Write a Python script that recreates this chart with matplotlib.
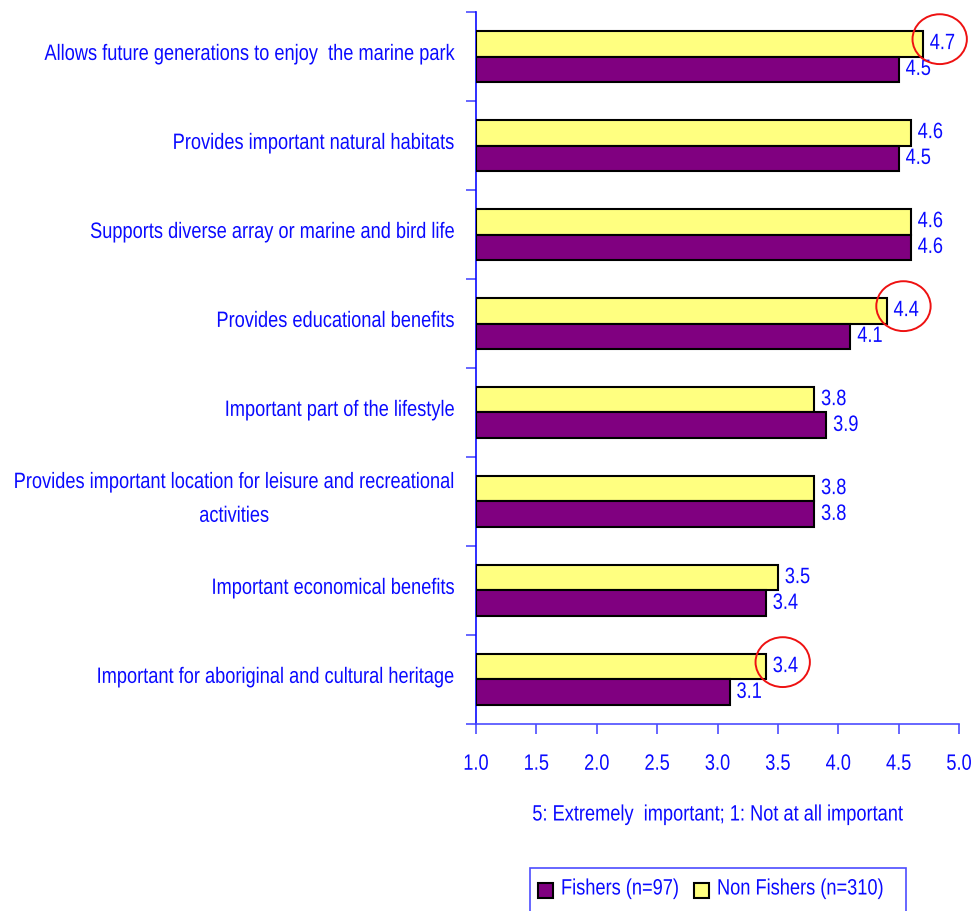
import numpy as np
import matplotlib.pyplot as plt
from matplotlib.patches import Ellipse, Rectangle
from matplotlib.patheffects import AbstractPathEffect
from matplotlib.text import Text
from matplotlib.transforms import Affine2D, Bbox, ScaledTranslation

# Data
categories = [
    "Allows future generations to enjoy  the marine park",
    "Provides important natural habitats",
    "Supports diverse array or marine and bird life",
    "Provides educational benefits",
    "Important part of the lifestyle",
    "Provides important location for leisure and recreational\nactivities",
    "Important economical benefits",
    "Important for aboriginal and cultural heritage",
]
fishers = [4.5, 4.5, 4.6, 4.1, 3.9, 3.8, 3.4, 3.1]
non_fishers = [4.7, 4.6, 4.6, 4.4, 3.8, 3.8, 3.5, 3.4]
highlight = [0, 3, 7]   # non fisher labels circled in red
x_ticks = [1.0, 1.5, 2.0, 2.5, 3.0, 3.5, 4.0, 4.5, 5.0]
series_names = ['Fishers (n=97)', 'Non Fishers (n=310)']

blue = '#0a0aff'
axis_blue = '#4d4dff'
purple = '#800080'
yellow = '#ffff80'
fs = 16
SQ = 0.82   # horizontal squeeze, the original uses a narrow font


#---------------------------------------------------------------------------------------------------
# Narrow text: ordinary Text, drawn horizontally condensed
#---------------------------------------------------------------------------------------------------

class Squeeze(AbstractPathEffect):
    def __init__(self, x0, sx):
        super().__init__()
        self.x0, self.sx = x0, sx

    def draw_path(self, renderer, gc, tpath, affine, rgbFace=None):
        t = affine + Affine2D().translate(-self.x0, 0).scale(self.sx, 1).translate(self.x0, 0)
        renderer.draw_path(gc, tpath, t, rgbFace)


class NarrowText(Text):
    def _anchor(self, bb):
        ha = self.get_horizontalalignment()
        return {'left': bb.x0, 'right': bb.x1, 'center': 0.5 * (bb.x0 + bb.x1)}[ha]

    def get_window_extent(self, renderer=None, dpi=None):
        bb = super().get_window_extent(renderer, dpi)
        a = self._anchor(bb)
        return Bbox.from_extents(a + (bb.x0 - a) * SQ, bb.y0, a + (bb.x1 - a) * SQ, bb.y1)

    def draw(self, renderer):
        bb = super().get_window_extent(renderer)
        self._path_effects = [Squeeze(self._anchor(bb), SQ)]
        super().draw(renderer)


def ntext(parent, x, y, s, **kw):
    kw.setdefault('color', blue)
    kw.setdefault('fontsize', fs)
    t = NarrowText(x, y, s, **kw)
    parent.add_artist(t)
    return t


plt.rcParams['font.family'] = ['Liberation Sans', 'DejaVu Sans']

fig = plt.figure(figsize=(9.75, 9.11), dpi=100)
ax = fig.add_axes([0.4882, 0.2053, 0.4954, 0.7815])


def pt(dx, dy):
    return ScaledTranslation(dx / 72, dy / 72, fig.dpi_scale_trans)


def px(x, y):
    return x / 975, 1 - y / 911


#---------------------------------------------------------------------------------------------------
# Bars
#---------------------------------------------------------------------------------------------------

y = np.arange(len(categories))
h = 0.29

ax.barh(y - h / 2, np.array(non_fishers) - 1, left=1, height=h, color=yellow,
        edgecolor='black', linewidth=1.5, zorder=3)
ax.barh(y + h / 2, np.array(fishers) - 1, left=1, height=h, color=purple,
        edgecolor='black', linewidth=1.5, zorder=3)

# value labels
for i in range(len(categories)):
    ntext(ax, non_fishers[i], i - h / 2, f"{non_fishers[i]:.1f}", ha='left', va='center',
          transform=ax.transData + pt(5, 0), zorder=4)
    ntext(ax, fishers[i], i + h / 2, f"{fishers[i]:.1f}", ha='left', va='center',
          transform=ax.transData + pt(5, 0), zorder=4)

# red circles
for i in highlight:
    ax.add_patch(Ellipse((non_fishers[i] + 0.14, i - h / 2 - 0.05), 0.45, 0.56,
                         fill=False, edgecolor='#ee1111', linewidth=1.4,
                         clip_on=False, zorder=5))

#---------------------------------------------------------------------------------------------------
# Axes
#---------------------------------------------------------------------------------------------------

ax.set_xlim(1, 5)
ax.set_ylim(len(categories) - 0.5, -0.5)
ax.set_xticks(x_ticks)
ax.set_xticklabels([])
ax.set_yticks(np.arange(-0.5, len(categories), 1))
ax.set_yticklabels([])

ax.tick_params(axis='y', length=7, width=1.2, color=axis_blue, direction='out')
ax.tick_params(axis='x', length=7, width=1.2, color=axis_blue, direction='out')

for s in ['top', 'right']:
    ax.spines[s].set_visible(False)
ax.spines['left'].set_color(blue)
ax.spines['bottom'].set_color(axis_blue)
ax.spines['left'].set_linewidth(1.2)
ax.spines['bottom'].set_linewidth(1.2)

for i, c in enumerate(categories):
    ntext(ax, 0, i, c, ha='right', va='center', multialignment='center', linespacing=1.8,
          transform=ax.get_yaxis_transform() + pt(-15, 1.5), clip_on=False)

for v in x_ticks:
    ntext(ax, v, 0, f"{v:.1f}", ha='center', va='center',
          transform=ax.get_xaxis_transform() + pt(0, -29), clip_on=False)

ntext(fig, *px(718, 815), "5: Extremely  important; 1: Not at all important",
      ha='center', va='center', transform=fig.transFigure)

#---------------------------------------------------------------------------------------------------
# Legend (box runs off the bottom edge, as in the original)
#---------------------------------------------------------------------------------------------------

x0, y0 = px(530, 920)
x1, y1 = px(906, 868)
fig.add_artist(Rectangle((x0, y0), x1 - x0, y1 - y0, transform=fig.transFigure,
                         facecolor='none', edgecolor=axis_blue, linewidth=1.2))
for name, col, sx, tx in zip(series_names, [purple, yellow], [538, 694], [561, 717]):
    bx, by = px(sx, 898)
    fig.add_artist(Rectangle((bx, by), 15 / 975, 15 / 911, transform=fig.transFigure,
                             facecolor=col, edgecolor='black', linewidth=1.5))
    ntext(fig, *px(tx, 889), name, ha='left', va='center', transform=fig.transFigure)

fig.savefig('out.png', dpi=100)
